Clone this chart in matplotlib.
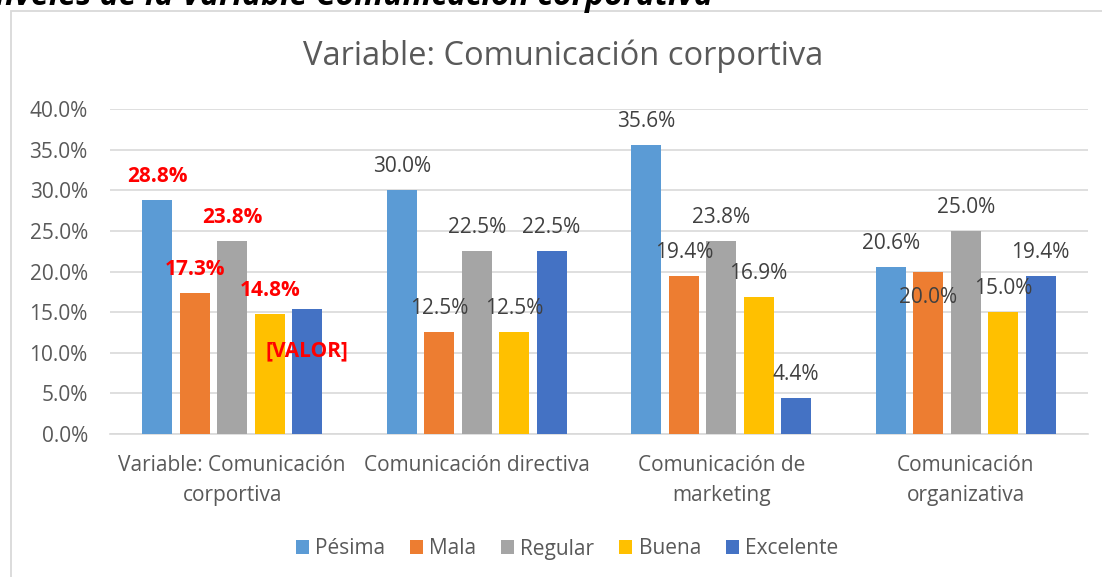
import matplotlib.pyplot as plt
import numpy as np
from matplotlib.patches import Rectangle

# Datos
categorias = ['Variable: Comunicación\ncorportiva', 'Comunicación directiva',
              'Comunicación de\nmarketing', 'Comunicación\norganizativa']
niveles = ['Pésima', 'Mala', 'Regular', 'Buena', 'Excelente']
pesima = [28.8, 30.0, 35.6, 20.6]
mala = [17.3, 12.5, 19.4, 20.0]
regular = [23.8, 22.5, 23.8, 25.0]
buena = [14.8, 12.5, 16.9, 15.0]
excelente = [15.4, 22.5, 4.4, 19.4]

series = [pesima, mala, regular, buena, excelente]
colores = ['#5B9BD5', '#ED7D31', '#A5A5A5', '#FFC000', '#4472C4']

plt.rcParams['font.family'] = ['Open Sans', 'DejaVu Sans']
gris = '#595959'
fs = 15

W, H = 1102, 577
fig = plt.figure(figsize=(W / 100, H / 100), dpi=100)

# marco del grafico
fig.patches.append(Rectangle((11 / W, -0.1), 1.2, 1 - 11 / H + 0.1, transform=fig.transFigure,
                             fill=False, edgecolor='#D9D9D9', lw=1.3))

# titulo cortado de la pagina
fig.text(-19 / W, 1 - 5 / H, 'Niveles de la Variable Comunicación corporativa',
         fontsize=23, fontweight='bold', style='italic', color='black', va='baseline', ha='left')

ax = fig.add_axes([110 / W, 143 / H, 978 / W, 325 / H])

x = np.arange(len(categorias))
ancho = 0.123
paso = 0.153

# desplazamientos de las etiquetas (en puntos)
desp = {(0, 4): -30, (3, 1): -19}

for i, (vals, col, nom) in enumerate(zip(series, colores, niveles)):
    pos = x + (i - 2) * paso
    ax.bar(pos, np.array(vals) / 100, width=ancho, color=col, label=nom, zorder=3)
    for j, v in enumerate(vals):
        dy = desp.get((j, i), 17)
        txt = f'{v:.1f}%'
        if j == 0:
            if i == 4:
                txt = '[VALOR]'
            ax.annotate(txt, (pos[j], v / 100), xytext=(0, dy), textcoords='offset points',
                        ha='center', va='center', fontsize=fs, fontweight='bold', color='red', zorder=5)
        else:
            ax.annotate(txt, (pos[j], v / 100), xytext=(0, dy), textcoords='offset points',
                        ha='center', va='center', fontsize=fs, color='#404040', zorder=5)

ax.set_xlim(-0.5, 3.5)
ax.set_ylim(0, 0.40)
ax.set_yticks(np.arange(0, 0.401, 0.05))
ax.set_yticklabels([f'{t * 100:.1f}%' for t in np.arange(0, 0.401, 0.05)])
ax.set_xticks(x)
ax.set_xticklabels(categorias, linespacing=1.6)
ax.tick_params(axis='both', length=0, labelsize=fs, labelcolor=gris)
ax.tick_params(axis='y', pad=16)
ax.tick_params(axis='x', pad=15)
ax.grid(axis='y', color='#D9D9D9', lw=1.2, zorder=0)
for s in ['top', 'right', 'left']:
    ax.spines[s].set_visible(False)
ax.spines['bottom'].set_color('#D9D9D9')
ax.spines['bottom'].set_linewidth(1.2)

fig.text(563 / W, 1 - 56 / H, 'Variable: Comunicación corportiva', fontsize=23.5,
         color=gris, ha='center', va='center')

fig.legend(loc='center', bbox_to_anchor=(567 / W, 1 - 549 / H), ncol=5, frameon=False,
           fontsize=fs, labelcolor=gris, handlelength=0.62, handleheight=0.62,
           handletextpad=0.3, columnspacing=1.2)

fig.savefig('out.png', dpi=100)
